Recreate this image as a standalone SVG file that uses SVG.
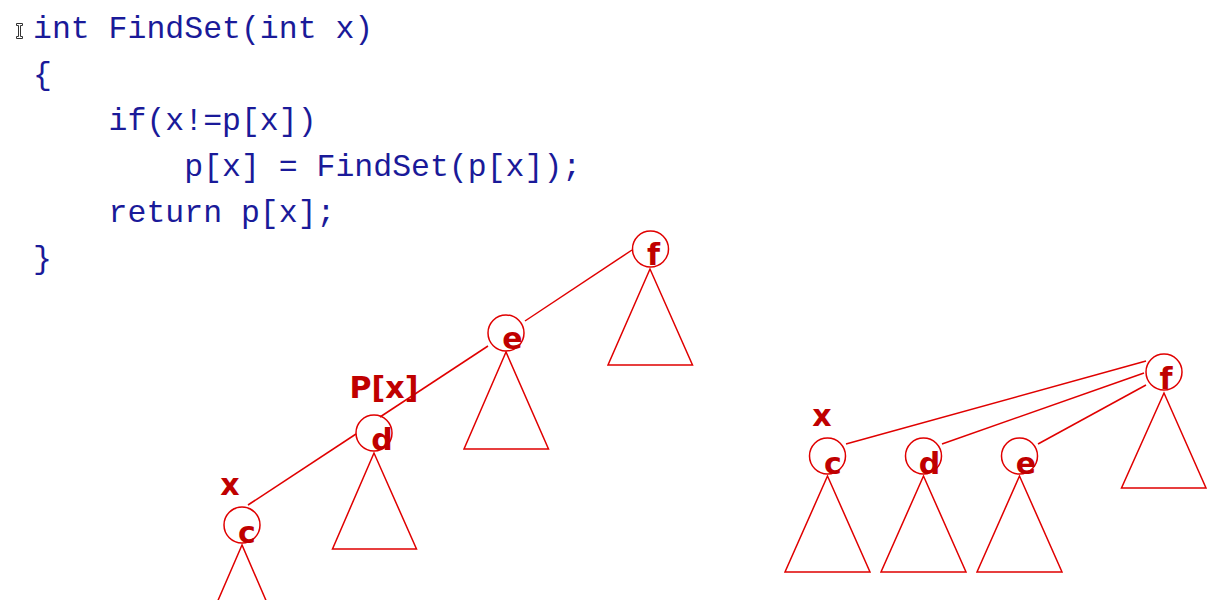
<svg xmlns="http://www.w3.org/2000/svg" width="1224" height="600" viewBox="0 0 1224 600">
<style>
.code{font-family:"Liberation Mono","Courier New",monospace;font-size:31.5px;fill:#1a1a99;white-space:pre}
.lbl{font-family:"DejaVu Sans",Verdana,sans-serif;font-weight:bold;font-size:30px;fill:#c00000;text-anchor:middle}
.node circle{fill:none;stroke:#e00000;stroke-width:1.5}
.tri{fill:none;stroke:#e00000;stroke-width:1.5;stroke-linejoin:miter}
.edges line{stroke:#e00000;stroke-width:1.5}
</style>
<rect width="1224" height="600" fill="#ffffff"/>
<path d="M16.5,23.5 h6 v2 h-2 v11 h2 v2 h-6 v-2 h2 v-11 h-2 z" fill="#ffffff" stroke="#333333" stroke-width="1"/>
<g id="code">
<text class="code" x="33" y="38">int FindSet(int x)</text>
<text class="code" x="33" y="84">{</text>
<text class="code" x="33" y="130">    if(x!=p[x])</text>
<text class="code" x="33" y="176">        p[x] = FindSet(p[x]);</text>
<text class="code" x="33" y="222">    return p[x];</text>
<text class="code" x="33" y="268">}</text>
</g>
<g id="edges" class="edges">
<line x1="632" y1="250" x2="525" y2="321"/>
<line x1="488" y1="346" x2="380" y2="417"/>
<line x1="356" y1="434" x2="248" y2="505"/>
<line x1="1146" y1="361" x2="846" y2="444"/>
<line x1="1144" y1="373" x2="942" y2="444"/>
<line x1="1146" y1="385" x2="1038" y2="444"/>
</g>
<g id="L-f" class="node">
<circle cx="650.5" cy="249" r="18"/>
<polygon class="tri" points="650,269 608,365 692.5,365"/>
<text class="lbl" x="653.5" y="265">f</text>
</g>
<g id="L-e" class="node">
<circle cx="506" cy="333" r="18"/>
<polygon class="tri" points="506,352 464,449 548.5,449"/>
<text class="lbl" x="512.5" y="349">e</text>
</g>
<g id="L-d" class="node">
<circle cx="374" cy="433" r="18"/>
<polygon class="tri" points="374,453 332.5,549 416.5,549"/>
<text class="lbl" x="382" y="450">d</text>
</g>
<g id="L-c" class="node">
<circle cx="242" cy="525" r="18"/>
<polygon class="tri" points="242,545 200,642 284,642"/>
<text class="lbl" x="247" y="543">c</text>
</g>
<text class="lbl" x="384" y="398">P[x]</text>
<text class="lbl" x="230" y="495">x</text>
<g id="R-f" class="node">
<circle cx="1164" cy="372" r="18"/>
<polygon class="tri" points="1164,393 1121.5,488 1206,488"/>
<text class="lbl" x="1166" y="389">f</text>
</g>
<g id="R-c" class="node">
<circle cx="827.5" cy="456" r="18"/>
<polygon class="tri" points="827.5,476 785,572 870,572"/>
<text class="lbl" x="833" y="474">c</text>
</g>
<g id="R-d" class="node">
<circle cx="923.5" cy="456" r="18"/>
<polygon class="tri" points="923.5,476 881,572 966,572"/>
<text class="lbl" x="929.5" y="474">d</text>
</g>
<g id="R-e" class="node">
<circle cx="1019.5" cy="456" r="18"/>
<polygon class="tri" points="1019.5,476 977,572 1062,572"/>
<text class="lbl" x="1026" y="474">e</text>
</g>
<text class="lbl" x="822" y="426">x</text>
</svg>
